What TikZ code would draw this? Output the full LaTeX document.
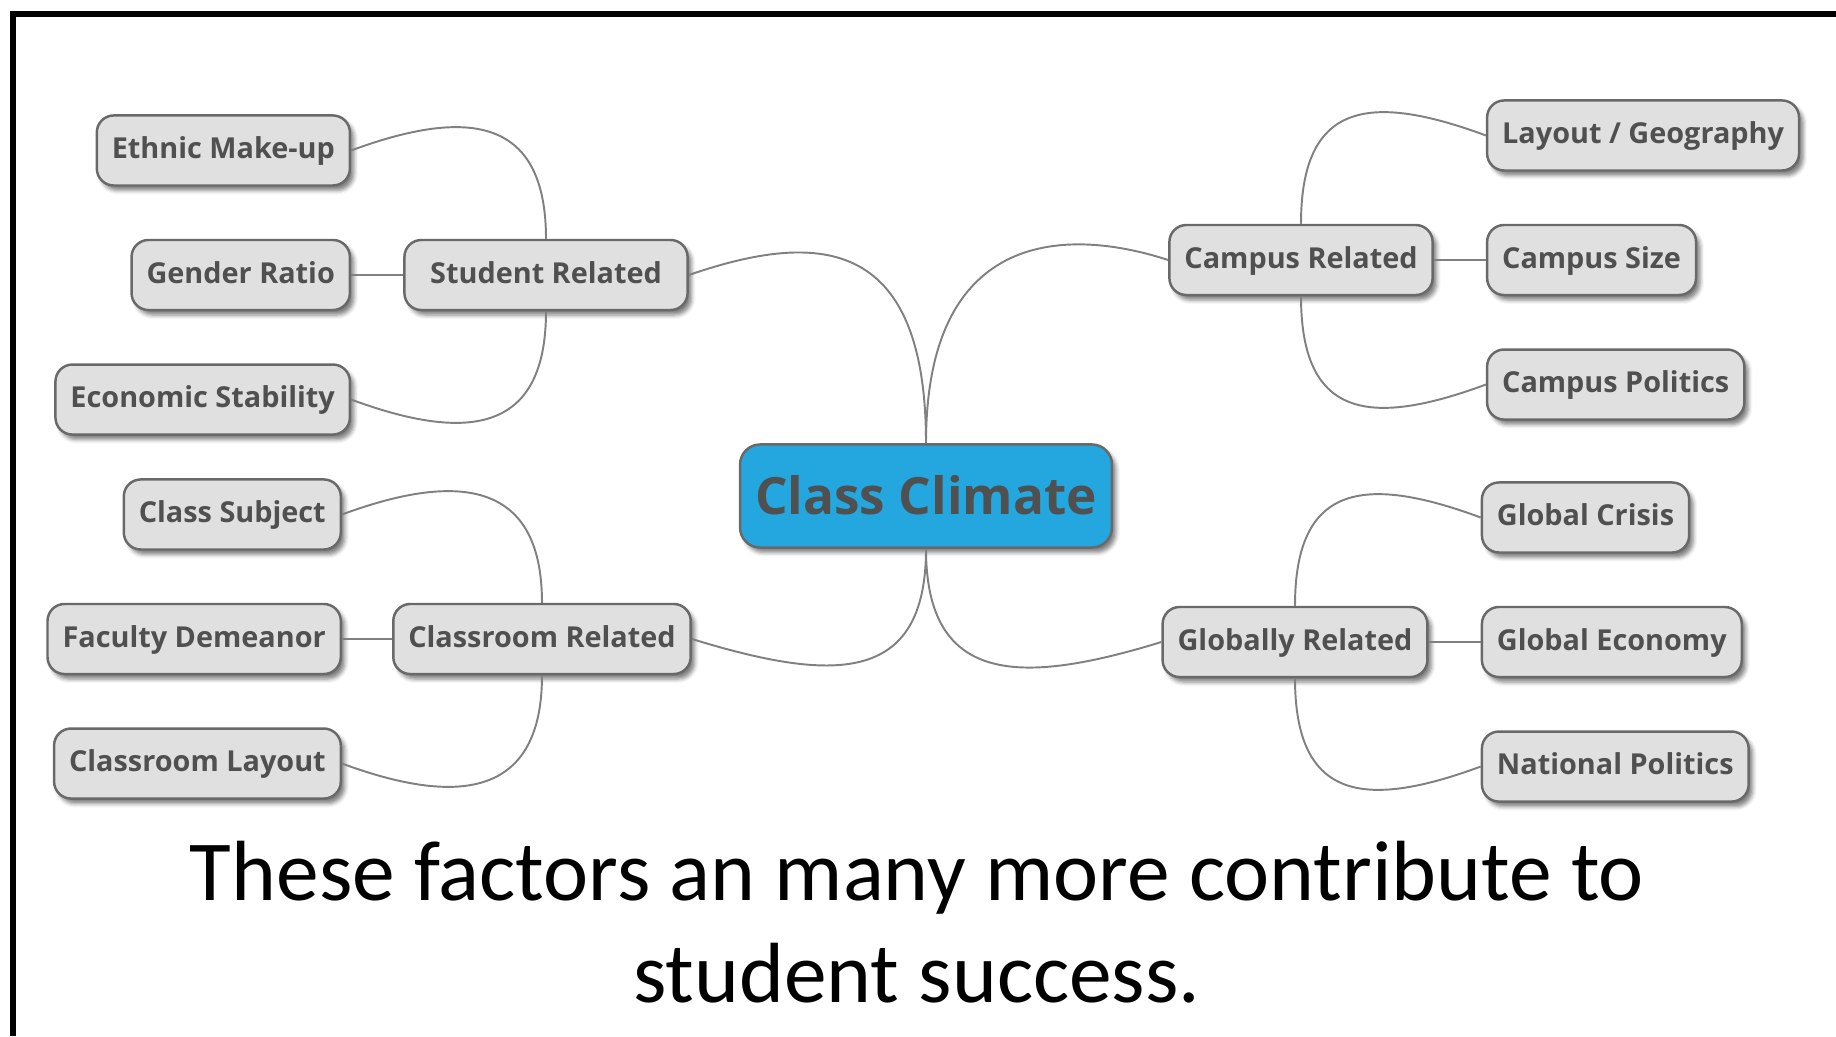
\documentclass[tikz,border=0pt]{standalone}
\usepackage{fontspec}
\setmainfont{Open Sans}
\newfontfamily\capfont{Carlito}
\usetikzlibrary{positioning,shadows.blur}

\definecolor{boxfill}{RGB}{224,224,224}
\definecolor{boxline}{RGB}{105,105,105}
\definecolor{boxtext}{RGB}{80,80,80}
\definecolor{linkgray}{RGB}{128,128,128}
\definecolor{climateblue}{RGB}{35,167,222}

\tikzset{
  topic/.style={draw=boxline, line width=0.7pt, fill=boxfill,
    rounded corners=0.17cm, minimum height=0.7cm, inner xsep=0.15cm,
    text=boxtext, font=\bfseries\fontsize{8.2}{10}\selectfont,
    text height=0.22cm, text depth=0.06cm,
    blur shadow={shadow xshift=0.04cm, shadow yshift=-0.05cm,
      shadow blur radius=0.04cm, shadow opacity=50}},
  central/.style={topic, fill=climateblue, minimum height=1.03cm,
    rounded corners=0.2cm, font=\bfseries\fontsize{14.6}{18}\selectfont,
    text height=0.38cm, text depth=0.02cm},
  link/.style={draw=linkgray, line width=0.55pt},
}

\begin{document}
\begin{tikzpicture}[x=0.01cm, y=-0.01cm]
  \useasboundingbox (0,0) rectangle (1836,1036);
  % open frame, left and top edges only
  \draw[line width=0.06cm] (13,1036) -- (13,14) -- (1836,14);

  % centre and the four main topics
  \node[central] (climate) at (926,496) {Class Climate};
  \node[topic, minimum width=2.83cm] (student) at (546,275) {Student Related};
  \node[topic] (classroom) at (542,639) {Classroom Related};
  \node[topic] (campus) at (1301,260) {Campus Related};
  \node[topic] (globally) at (1295,642) {Globally Related};

  % student related
  \node[topic, left=0.52cm of student] (gender) {Gender Ratio};
  \node[topic, above=0.52cm of gender.north east, anchor=south east] (ethnic) {Ethnic Make-up};
  \node[topic, below=0.52cm of gender.south east, anchor=north east] (economic) {Economic Stability};

  % classroom related
  \node[topic, left=0.5cm of classroom] (faculty) {Faculty Demeanor};
  \node[topic, above=0.52cm of faculty.north east, anchor=south east] (subject) {Class Subject};
  \node[topic, below=0.52cm of faculty.south east, anchor=north east] (roomlayout) {Classroom Layout};

  % campus related
  \node[topic, right=0.52cm of campus] (size) {Campus Size};
  \node[topic, above=0.52cm of size.north west, anchor=south west] (geography) {Layout / Geography};
  \node[topic, below=0.52cm of size.south west, anchor=north west] (politics) {Campus Politics};

  % globally related
  \node[topic, right=0.52cm of globally] (economy) {Global Economy};
  \node[topic, above=0.52cm of economy.north west, anchor=south west] (crisis) {Global Crisis};
  \node[topic, below=0.52cm of economy.south west, anchor=north west] (national) {National Politics};

  % main branches
  \draw[link] (climate.north) .. controls +(0,-211) and +(125,-43) .. (student.east);
  \draw[link] (climate.north) .. controls +(0,-217) and +(-98,-32) .. (campus.west);
  \draw[link] (climate.south) .. controls +(0,137) and +(140,43) .. (classroom.east);
  \draw[link] (climate.south) .. controls +(0,137) and +(-140,43) .. (globally.west);

  % sub branches, left side
  \draw[link] (student.north) .. controls +(0,-120) and +(119,-44) .. (ethnic.east);
  \draw[link] (student.west) -- (gender.east);
  \draw[link] (student.south) .. controls +(0,120) and +(119,44) .. (economic.east);
  \draw[link] (classroom.north) .. controls +(0,-120) and +(119,-44) .. (subject.east);
  \draw[link] (classroom.west) -- (faculty.east);
  \draw[link] (classroom.south) .. controls +(0,120) and +(119,44) .. (roomlayout.east);

  % sub branches, right side
  \draw[link] (campus.north) .. controls +(0,-120) and +(-119,-44) .. (geography.west);
  \draw[link] (campus.east) -- (size.west);
  \draw[link] (campus.south) .. controls +(0,120) and +(-119,44) .. (politics.west);
  \draw[link] (globally.north) .. controls +(0,-120) and +(-119,-44) .. (crisis.west);
  \draw[link] (globally.east) -- (economy.west);
  \draw[link] (globally.south) .. controls +(0,120) and +(-119,44) .. (national.west);

  \node[align=center, inner sep=0pt, font=\capfont\fontsize{24.3}{29}\selectfont]
    (caption) at (917,922) {These factors an many more contribute to\\student success.};
\end{tikzpicture}
\end{document}
